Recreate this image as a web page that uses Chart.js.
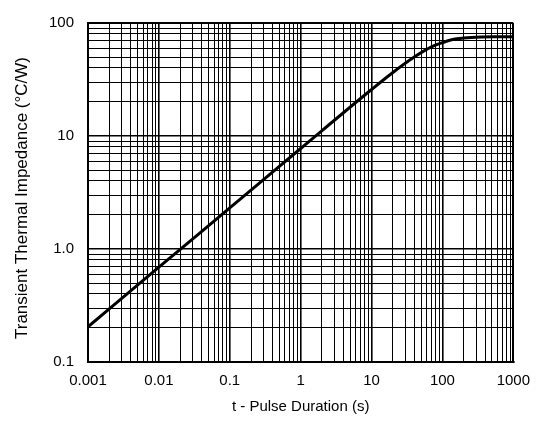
<!DOCTYPE html>
<html>
<head>
<meta charset="utf-8">
<script src="https://cdn.jsdelivr.net/npm/chart.js@4"></script>
<style>
  html, body { margin: 0; padding: 0; background: #fff; }
  canvas { display: block; }
</style>
</head>
<body>
<canvas id="chart" width="540" height="423"></canvas>
<script>
// values (log-log)
const pulseTimes = [0.001, 0.01, 0.1, 1, 10, 20, 40, 70, 100, 135, 200, 350, 600, 1000];
const impedance = [0.205, 0.69, 2.31, 7.75, 25.8, 36.5, 50, 61.5, 67, 71, 73.6, 75.2, 75.5, 75.6];

const xDecades = [0.001, 0.01, 0.1, 1, 10, 100, 1000];
const xTickLabels = ["0.001", "0.01", "0.1", "1", "10", "100", "1000"];
const yDecades = [0.1, 1, 10, 100];
const yTickLabels = ["0.1", "1.0", "10", "100"];

const yTitle = "Transient Thermal Impedance (°C/W)";
const FONT = "'Liberation Sans', Arial, Helvetica, sans-serif";

// 1..9 per decade, for the grid
function decadeTicks(decades) {
  const ticks = [];
  decades.forEach((d, i) => {
    if (i === decades.length - 1) {
      ticks.push({ value: d, major: true });
      return;
    }
    for (let k = 1; k <= 9; k++) {
      ticks.push({ value: d * k, major: k === 1 });
    }
  });
  return ticks;
}

function labelFor(value, decades, labels) {
  const i = decades.findIndex(d => Math.abs(Math.log10(value / d)) < 1e-6);
  return i >= 0 ? labels[i] : "";
}

// last tick doubles as the top / right frame
const gridWidth = ctx => {
  if (!ctx.tick) return 1;
  if (ctx.index === ctx.scale.ticks.length - 1) return 2;
  return ctx.tick.major ? 1.6 : 1;
};

// y title drawn by hand so it can sit a little lower than chart.js centres it
const yTitlePlugin = {
  id: "yTitle",
  afterDraw(chart) {
    const { ctx } = chart;
    ctx.save();
    ctx.translate(22, 198);
    ctx.rotate(-Math.PI / 2);
    ctx.font = "17px " + FONT;
    ctx.fillStyle = "#000";
    ctx.textAlign = "center";
    ctx.textBaseline = "middle";
    ctx.fillText(yTitle, 0, 0);
    ctx.restore();
  },
};

new Chart(document.getElementById("chart"), {
  type: "line",
  data: {
    datasets: [{
      data: pulseTimes.map((t, i) => ({ x: t, y: impedance[i] })),
      borderColor: "#000",
      borderWidth: 3,
      pointRadius: 0,
      cubicInterpolationMode: "monotone",
      fill: false,
    }],
  },
  plugins: [yTitlePlugin],
  options: {
    responsive: false,
    animation: false,
    events: [],
    layout: { padding: { left: 0, top: 15, right: 24, bottom: 0 } },
    plugins: { legend: { display: false }, tooltip: { enabled: false } },
    scales: {
      x: {
        type: "logarithmic",
        min: 0.001,
        max: 1000,
        afterBuildTicks: scale => { scale.ticks = decadeTicks(xDecades); },
        afterFit: scale => { scale.height = 61; },
        border: { display: true, color: "#000", width: 2 },
        grid: { color: "#000", lineWidth: gridWidth, drawTicks: false },
        ticks: {
          autoSkip: false,
          maxRotation: 0,
          minRotation: 0,
          padding: 10,
          color: "#000",
          font: { family: FONT, size: 15 },
          callback: v => labelFor(v, xDecades, xTickLabels),
        },
        title: {
          display: true,
          text: "t - Pulse Duration (s)",
          color: "#000",
          font: { family: FONT, size: 15 },
          padding: { top: 0, bottom: 7 },
        },
      },
      y: {
        type: "logarithmic",
        min: 0.1,
        max: 100,
        afterBuildTicks: scale => { scale.ticks = decadeTicks(yDecades); },
        afterFit: scale => { scale.width = 88; },
        border: { display: true, color: "#000", width: 2 },
        grid: { color: "#000", lineWidth: gridWidth, drawTicks: false },
        ticks: {
          autoSkip: false,
          padding: 14,
          color: "#000",
          font: { family: FONT, size: 15 },
          callback: v => labelFor(v, yDecades, yTickLabels),
        },
        title: { display: false },
      },
    },
  },
});
</script>
</body>
</html>
